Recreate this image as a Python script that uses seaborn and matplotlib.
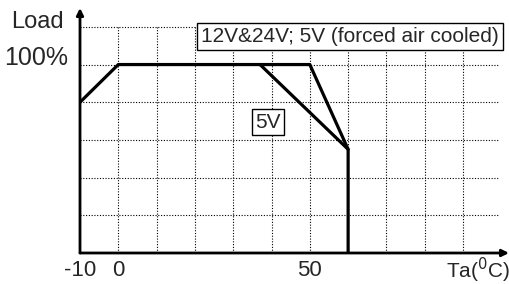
import matplotlib
matplotlib.use("Agg")
import matplotlib.pyplot as plt
import seaborn as sns
import pandas as pd

# ---------- data ----------
ta_main = [-10, 0, 50, 60, 60]
load_main = [80, 100, 100, 55, 0]
ta_5v = [37, 60]
load_5v = [100, 55]
x_grid = [0, 10, 20, 30, 40, 50, 60, 70, 80, 90]
y_grid = [20, 40, 60, 80, 100, 120]
x_ticks = [-10, 0, 50]
x_tick_labels = ["-10", "0", "50"]

sns.set_theme(style="white")
plt.rcParams["font.family"] = ["Liberation Sans", "DejaVu Sans"]

fig = plt.figure(figsize=(5.1, 2.84), dpi=100)
ax = fig.add_axes([80 / 510, 31 / 284, 429 / 510, 245 / 284])
ax.set_xlim(-10, 102)
ax.set_ylim(0, 130)

# dotted grid
for gx in x_grid:
    ax.plot([gx, gx], [0, 120], color="black", lw=0.8, ls=(0, (1, 1.5)), zorder=1)
for gy in y_grid:
    ax.plot([-10, 99], [gy, gy], color="black", lw=0.8, ls=(0, (1, 1.5)), zorder=1)

main = pd.DataFrame({"Ta": ta_main, "Load": load_main})
v5 = pd.DataFrame({"Ta": ta_5v, "Load": load_5v})
sns.lineplot(data=main, x="Ta", y="Load", sort=False, estimator=None,
             color="black", lw=2.3, ax=ax, zorder=3)
sns.lineplot(data=v5, x="Ta", y="Load", sort=False, estimator=None,
             color="black", lw=2.3, ax=ax, zorder=3)

# axes with arrows
for s in ["top", "right", "left", "bottom"]:
    ax.spines[s].set_visible(False)
ax.annotate("", xy=(-10, 130), xytext=(-10, 0),
            arrowprops=dict(arrowstyle="-|>", color="black", lw=2, mutation_scale=10,
                            shrinkA=0, shrinkB=0))
ax.annotate("", xy=(102, 0), xytext=(-10, 0),
            arrowprops=dict(arrowstyle="-|>", color="black", lw=2, mutation_scale=10,
                            shrinkA=0, shrinkB=0))

ax.set_xticks(x_ticks)
ax.set_xticklabels(x_tick_labels, fontsize=16)
ax.set_yticks([])
ax.tick_params(axis="x", length=0, pad=5)
ax.set_xlabel("")
ax.set_ylabel("")

fig.text(37 / 510, 1 - 22 / 284, "Load", fontsize=17, ha="center", va="center")
fig.text(36 / 510, 1 - 58 / 284, "100%", fontsize=18, ha="center", va="center")
fig.text(478 / 510, 1 - 270 / 284, "Ta($^0$C)", fontsize=15, ha="center", va="center")

ax.text(60.5, 115, "12V&24V; 5V (forced air cooled)", fontsize=15, ha="center", va="center",
        bbox=dict(boxstyle="square,pad=0.2", fc="white", ec="black", lw=1), zorder=5)
ax.text(39.1, 69.5, "5V", fontsize=15, ha="center", va="center",
        bbox=dict(boxstyle="square,pad=0.15", fc="white", ec="black", lw=1), zorder=5)

fig.savefig("out.png", dpi=100)
